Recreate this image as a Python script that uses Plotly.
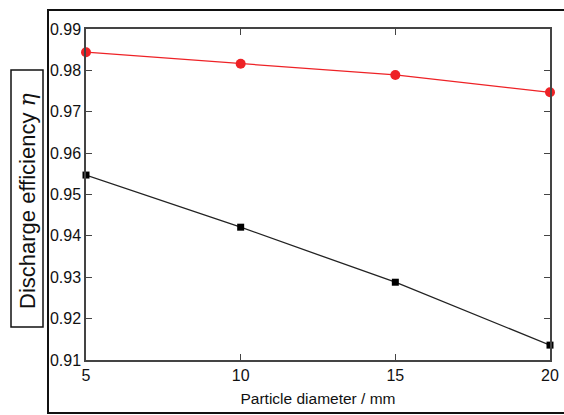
import plotly.graph_objects as go

diameters = [5, 10, 15, 20]
eff_red = [0.9844, 0.9816, 0.9789, 0.9747]
eff_black = [0.9547, 0.9421, 0.9288, 0.9136]
y_ticks = [0.91, 0.92, 0.93, 0.94, 0.95, 0.96, 0.97, 0.98, 0.99]
x_ticks = [5, 10, 15, 20]

W, H = 564, 415
L, R, T, B = 86, 14, 29, 55
pw, ph = W - L - R, H - T - B

def px(x):
    return (x - L) / pw

def py(y):
    return (H - B - y) / ph

fig = go.Figure()
fig.add_trace(go.Scatter(x=diameters, y=eff_red, mode="lines+markers",
                         line=dict(color="#ee2226", width=1.3),
                         marker=dict(symbol="circle", size=10, color="#ee2226"),
                         cliponaxis=False, showlegend=False))
fig.add_trace(go.Scatter(x=diameters, y=eff_black, mode="lines+markers",
                         line=dict(color="#222222", width=1.3),
                         marker=dict(symbol="square", size=7, color="#000000"),
                         cliponaxis=False, showlegend=False))

axis_common = dict(showgrid=False, zeroline=False, showline=True, linecolor="#444444",
                   linewidth=1.5, mirror="ticks", ticks="inside", ticklen=6,
                   tickcolor="#444444", tickwidth=1, automargin=False,
                   tickfont=dict(family="Liberation Sans, Arial", size=16, color="#111111"))

fig.update_xaxes(range=[5, 20], tickvals=x_ticks, ticktext=[str(v) for v in x_ticks],
                 title=dict(text="Particle diameter / mm", standoff=10,
                            font=dict(family="Liberation Sans, Arial", size=15.5, color="#111111")),
                 **axis_common)
fig.update_yaxes(range=[0.91, 0.99], tickvals=y_ticks, ticktext=[f"{v:.2f}" for v in y_ticks],
                 **axis_common)

# outer frame
fig.add_shape(type="rect", xref="paper", yref="paper",
              x0=px(48), x1=px(570), y0=py(413), y1=py(10),
              line=dict(color="#111111", width=2), layer="below")
# y label box
fig.add_shape(type="rect", xref="paper", yref="paper",
              x0=px(11), x1=px(43), y0=py(327), y1=py(70),
              line=dict(color="#111111", width=1.5))
fig.add_annotation(xref="paper", yref="paper", x=px(27), y=py(201),
                   text='Discharge efficiency <span style="font-family:DejaVu Serif"><i>η</i></span>',
                   textangle=-90, showarrow=False, xanchor="center", yanchor="middle",
                   font=dict(family="Liberation Sans, Arial", size=22, color="#111111"))

fig.update_layout(width=W, height=H, margin=dict(l=L, r=R, t=T, b=B),
                  paper_bgcolor="white", plot_bgcolor="white")

fig.write_html("out.html", config={"displayModeBar": False},
               post_script="document.body.style.margin='0';document.body.style.overflow='hidden';")
